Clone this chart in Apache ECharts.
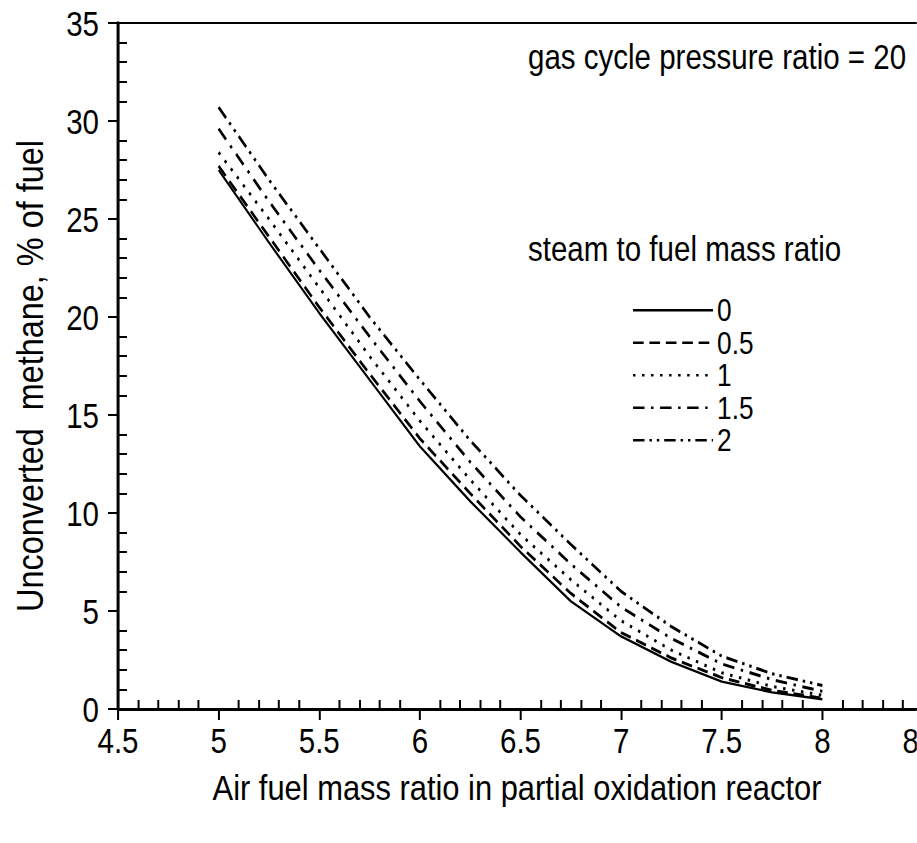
<!DOCTYPE html>
<html><head><meta charset="utf-8">
<script src="https://cdn.jsdelivr.net/npm/echarts@6/dist/echarts.min.js"></script>
<style>
html,body{margin:0;padding:0;background:#fff;overflow:hidden;width:917px;height:843px}
#c{height:843px;transform-origin:0 0}
</style>
</head><body><div id="c"></div>
<script>
const xValues = [5, 5.25, 5.5, 5.75, 6, 6.25, 6.5, 6.75, 7, 7.25, 7.5, 7.75, 8];
const s0   = [27.5, 23.8, 20.2, 16.8, 13.4, 10.6, 8.0, 5.5, 3.7, 2.4, 1.4, 0.85, 0.5];
const s05  = [27.7, 24.1, 20.5, 17.1, 13.8, 11.0, 8.3, 5.9, 3.9, 2.6, 1.6, 0.95, 0.55];
const s1   = [28.4, 25.0, 21.5, 18.0, 14.7, 11.7, 8.9, 6.6, 4.5, 3.0, 1.85, 1.15, 0.7];
const s15  = [29.6, 25.9, 22.4, 19.0, 15.7, 12.6, 9.8, 7.4, 5.2, 3.6, 2.3, 1.5, 0.9];
const s2   = [30.7, 27.0, 23.5, 20.0, 16.8, 13.7, 10.9, 8.4, 6.0, 4.2, 2.7, 1.8, 1.2];
const seriesNames = ['0', '0.5', '1', '1.5', '2'];
const xMajorTicks = [4.5, 5, 5.5, 6, 6.5, 7, 7.5, 8, 8.5];
const yMajorTicks = [0, 5, 10, 15, 20, 25, 30, 35];

// Horizontal condensing factor (emulates a narrow sans-serif face)
const S = 0.82;
const FONT = "'Liberation Sans', Arial, sans-serif";
const dashes = ['solid', [13, 7], [3, 8], [14, 8, 3, 8], [14, 6, 3, 6, 3, 6]];
const allData = [s0, s05, s1, s15, s2];

const el = document.getElementById('c');
el.style.width = (917 / S) + 'px';
el.style.transform = 'scaleX(' + S + ')';

function minorTicks(majors, step) {
  const out = [];
  for (let i = 0; i < majors.length - 1; i++) {
    const a = majors[i], b = majors[i + 1];
    const n = Math.round((b - a) / step);
    for (let k = 1; k < n; k++) out.push(+(a + k * step).toFixed(4));
  }
  return out;
}
const X = v => v / S;

const chart = echarts.init(el, null, {renderer: 'svg'});
const axisCommon = {type: 'value', splitLine: {show: false}};
chart.setOption({
  animation: false,
  backgroundColor: '#fff',
  textStyle: {fontFamily: FONT},
  grid: {left: X(118), top: 23, width: X(805), height: 686, show: true, borderColor: '#000', borderWidth: 2,
         backgroundColor: 'transparent', outerBoundsMode: 'none', containLabel: false},
  xAxis: [
    Object.assign({}, axisCommon, {
      min: 4.5, max: 8.5, interval: 0.5, position: 'bottom',
      axisLine: {lineStyle: {color: '#000', width: 3}},
      axisTick: {inside: false, length: 11, lineStyle: {color: '#000', width: X(2)}},
      axisLabel: {color: '#000', fontSize: 36, fontFamily: FONT, margin: 13, showMaxLabel: true, showMinLabel: true, hideOverlap: false}
    }),
    Object.assign({}, axisCommon, {
      min: 4.5, max: 8.5, position: 'bottom',
      axisLine: {show: false},
      axisTick: {inside: true, length: 9, lineStyle: {color: '#000', width: X(2)}, customValues: minorTicks(xMajorTicks, 0.1)},
      axisLabel: {show: false}
    })
  ],
  yAxis: [
    Object.assign({}, axisCommon, {
      min: 0, max: 35, interval: 5, position: 'left',
      axisLine: {show: true, lineStyle: {color: '#000', width: X(3)}},
      axisTick: {show: true, inside: false, length: X(10), lineStyle: {color: '#000', width: 2}},
      axisLabel: {color: '#000', fontSize: 36, fontFamily: FONT, margin: X(19), padding: [6, 0, 0, 0]}
    }),
    Object.assign({}, axisCommon, {
      min: 0, max: 35, position: 'left',
      axisLine: {show: false},
      axisTick: {show: true, inside: true, length: X(9), lineStyle: {color: '#000', width: 2}, customValues: minorTicks(yMajorTicks, 1)},
      axisLabel: {show: false}
    })
  ],
  legend: {
    orient: 'vertical', left: X(632), top: 294,
    itemWidth: X(80), itemHeight: 14, itemGap: 0, padding: 0,
    itemStyle: {opacity: 0},
    lineStyle: {width: 2.5},
    textStyle: {color: '#000', fontSize: 32, fontFamily: FONT, lineHeight: 32.5},
    data: seriesNames
  },
  series: allData.map((d, i) => ({
    name: seriesNames[i], type: 'line', xAxisIndex: 0, yAxisIndex: 0,
    data: xValues.map((x, j) => [x, d[j]]),
    symbol: 'none', smooth: false, color: '#000',
    lineStyle: {color: '#000', width: i === 0 ? 2.4 : 3, type: dashes[i]}
  })),
  graphic: [
    {type: 'text', left: X(528), top: 38, style: {text: 'gas cycle pressure ratio = 20', fill: '#000', font: "36px " + FONT}},
    {type: 'text', left: X(528), top: 230, style: {text: 'steam to fuel mass ratio', fill: '#000', font: "36px " + FONT}},
    {type: 'text', x: X(517), y: 788, scaleX: 1.046, style: {text: 'Air fuel mass ratio in partial oxidation reactor', fill: '#000', font: "36px " + FONT, align: 'center', verticalAlign: 'middle'}},
    {type: 'text', x: X(30), y: 376, rotation: Math.PI / 2, scaleX: 0.9, scaleY: 1 / S,
     style: {text: 'Unconverted  methane, % of fuel', fill: '#000', font: "36px " + FONT, align: 'center', verticalAlign: 'middle'}}
  ]
});
</script></body></html>
